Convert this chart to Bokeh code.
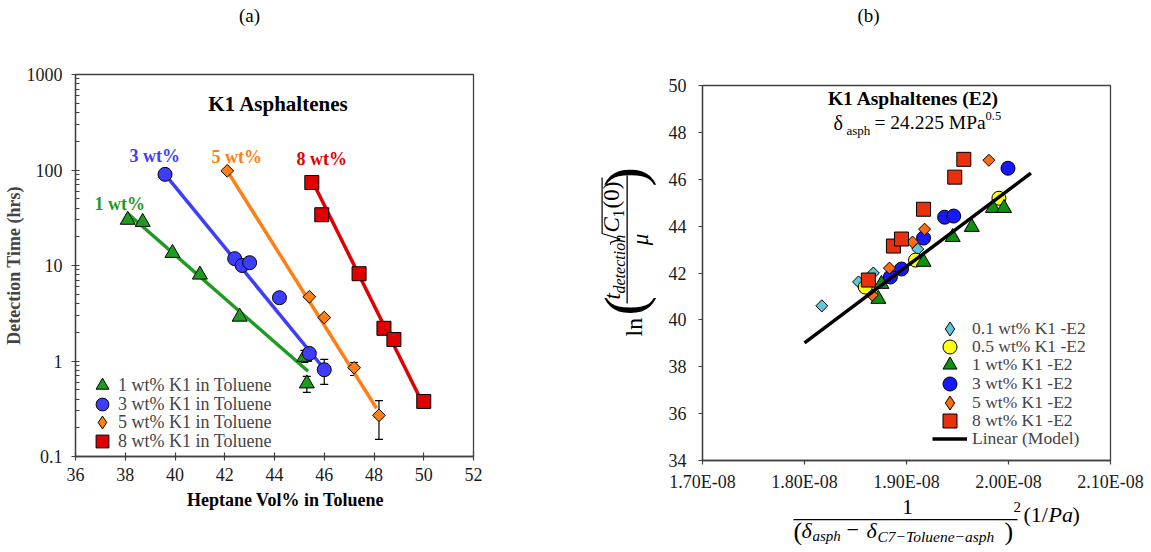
import math
from bokeh.plotting import figure
from bokeh.layouts import row, column
from bokeh.models import (Range1d, FixedTicker, CustomJSTickFormatter, Label, Legend, LegendItem,
                          ColumnDataSource, Whisker, TeeHead, BoxAnnotation)
from bokeh.embed import file_html
from bokeh.resources import INLINE

SERIF = "'Liberation Serif', 'Times New Roman', serif"
NAN = float("nan")

# ---------------- panel (a): detection time vs heptane content ----------------
hep_1wt = [38.1, 38.7, 39.9, 41.0, 42.6, 45.2, 45.3]
det_1wt = [30.0, 28.5, 13.5, 8.0, 2.9, 1.1, 0.58]
err_1wt_x = [45.2, 45.3]
err_1wt_lo = [0.965, 0.47]
err_1wt_hi = [1.29, 0.69]
fit_1wt_x = [38.1, 45.35]
fit_1wt_y = [35.0, 0.78]

hep_3wt = [39.6, 42.4, 42.7, 43.0, 44.2, 45.4, 46.0]
det_3wt = [90.0, 11.8, 10.0, 10.7, 4.6, 1.2, 0.81]
err_3wt_x = [46.0]
err_3wt_lo = [0.57]
err_3wt_hi = [1.04]
fit_3wt_x = [39.6, 45.95]
fit_3wt_y = [90.0, 0.855]

hep_5wt = [42.1, 45.4, 46.0, 47.2, 48.2]
det_5wt = [98.0, 4.7, 2.85, 0.85, 0.27]
err_5wt_x = [47.2, 48.2]
err_5wt_lo = [0.705, 0.151]
err_5wt_hi = [0.965, 0.385]
fit_5wt_x = [42.1, 48.1]
fit_5wt_y = [98.0, 0.32]

hep_8wt = [45.5, 45.9, 47.4, 48.4, 48.8, 50.0]
det_8wt = [74.0, 34.0, 8.2, 2.2, 1.68, 0.377]
fit_8wt_x = [45.55, 49.85]
fit_8wt_y = [74.0, 0.41]

a_xticks = [36, 38, 40, 42, 44, 46, 48, 50, 52]
a_xlabels = ["36", "38", "40", "42", "44", "46", "48", "50", "52"]
a_yticks = [0.1, 1, 10, 100, 1000]
a_ylabels = ["0.1", "1", "10", "100", "1000"]
a_legend = ["1 wt% K1 in Toluene", "3 wt% K1 in Toluene", "5 wt% K1 in Toluene", "8 wt% K1 in Toluene"]

# ---------------- panel (b): scaled detection time vs solubility term ----------------
b_01_x = [1.817e-8, 1.853e-8, 1.8675e-8, 1.911e-8]
b_01_y = [40.60, 41.62, 42.00, 43.02]
b_05_x = [1.8596e-8, 1.9089e-8, 1.9906e-8]
b_05_y = [41.40, 42.55, 45.19]
b_1_x = [1.8724e-8, 1.8754e-8, 1.9167e-8, 1.9453e-8, 1.964e-8, 1.9847e-8, 1.9956e-8]
b_1_y = [40.89, 41.53, 42.47, 43.53, 43.96, 44.77, 44.77]
b_3_x = [1.8842e-8, 1.8951e-8, 1.9167e-8, 1.9374e-8, 1.9463e-8, 1.9995e-8]
b_3_y = [41.83, 42.17, 43.49, 44.38, 44.43, 46.47]
b_5_x = [1.8665e-8, 1.8833e-8, 1.9059e-8, 1.9177e-8, 1.9808e-8]
b_5_y = [41.06, 42.21, 43.32, 43.87, 46.81]
b_8_x = [1.8626e-8, 1.8872e-8, 1.8951e-8, 1.9167e-8, 1.9473e-8, 1.9562e-8]
b_8_y = [41.70, 43.15, 43.45, 44.72, 46.09, 46.85]
model_x = [1.80e-8, 2.022e-8]
model_y = [39.02, 46.26]

b_xticks = [1.7e-8, 1.8e-8, 1.9e-8, 2.0e-8, 2.1e-8]
b_xlabels = ["1.70E-08", "1.80E-08", "1.90E-08", "2.00E-08", "2.10E-08"]
b_yticks = [34, 36, 38, 40, 42, 44, 46, 48, 50]
b_ylabels = ["34", "36", "38", "40", "42", "44", "46", "48", "50"]
b_legend = ["0.1 wt% K1 -E2", "0.5 wt% K1 -E2", "1 wt% K1 -E2", "3 wt% K1 -E2",
            "5 wt% K1 -E2", "8 wt% K1 -E2", "Linear (Model)"]

# colours
GREEN_A, BLUE_A, ORANGE_A, RED_A = "#1f9b1f", "#3d3dff", "#ff7f14", "#e00000"
CYAN_B, YELLOW_B, GREEN_B, BLUE_B, ORANGE_B, RED_B = "#5ec8da", "#ffff10", "#0f900f", "#1818ff", "#ff6a12", "#e8300c"
AXIS = "#404040"

LOOKUP = """
let best = 0, d = Infinity;
for (let i = 0; i < tick_vals.length; i++) {
  const e = Math.abs(tick - tick_vals[i]);
  if (e < d) { d = e; best = i; }
}
return tick_text[best];
"""


def tick_fmt(vals, text):
    return CustomJSTickFormatter(args=dict(tick_vals=vals, tick_text=text), code=LOOKUP)


def style_axes(p):
    p.grid.visible = False
    p.outline_line_color = AXIS
    p.outline_line_width = 1.3
    for ax in (p.xaxis[0], p.yaxis[0]):
        ax.axis_line_color = AXIS
        ax.axis_line_width = 1.3
        ax.major_tick_line_color = AXIS
        ax.major_tick_line_width = 1.2
        ax.minor_tick_line_color = None
        ax.major_label_text_font = SERIF
        ax.major_label_text_font_size = "18px"
        ax.major_label_text_color = "#1a1a1a"


def strip(w, h, bl=0, br=0, bt=0, bb=0):
    """A bare drawing area (no axes) that only carries text; borders match its neighbour plot."""
    s = figure(width=w, height=h, x_range=Range1d(0, 1), y_range=Range1d(0, 1),
               x_axis_location=None, y_axis_location=None, title_location=None,
               toolbar_location=None, output_backend="svg",
               min_border_left=bl, min_border_right=br, min_border_top=bt, min_border_bottom=bb)
    s.grid.visible = False
    s.outline_line_color = None
    return s


def note(p, left, bottom, px, py, text, size, style="normal", align="left", angle=0, color="black"):
    """Place text whose baseline starts at page pixel (px, py); left/bottom locate the frame.

    The label is anchored on the middle of its em box, which sits about 0.34 em
    above the baseline, so the anchor is moved by that amount.
    """
    lift = 0.34 * size
    if angle == 90:
        px -= lift
    else:
        py -= lift
    p.add_layout(Label(x=px - left, y=bottom - py, x_units="screen", y_units="screen",
                       text=text, text_font=SERIF, text_font_size=f"{size}px",
                       text_font_style=style, text_align=align, text_baseline="middle",
                       angle=angle, angle_units="deg", text_color=color))


def rule(p, left, bottom, x0, x1, y0, y1):
    """A thin filled bar given in page pixel coordinates."""
    p.add_layout(BoxAnnotation(left=x0 - left, right=x1 - left, top=bottom - y0, bottom=bottom - y1,
                               left_units="screen", right_units="screen",
                               top_units="screen", bottom_units="screen",
                               fill_color="black", fill_alpha=1.0, line_color=None))


def key(p, frame_left, frame_bottom, cx, cy, label, renderer, box, standoff, size):
    """One legend row: symbol centred at page pixel (cx, cy)."""
    p.add_layout(Legend(items=[LegendItem(label=label, renderers=[renderer])],
                        location=(int(round(cx - box / 2 - frame_left)), int(round(frame_bottom - cy - box / 2))),
                        glyph_width=box, glyph_height=box, label_standoff=standoff,
                        padding=0, margin=0, border_line_color=None, background_fill_alpha=0,
                        label_text_font=SERIF, label_text_font_size=size, label_height=box))


# ================= panel (a) =================
A_L, A_R, A_T, A_B = 73, 473, 74, 456
WA = 576
TOP_H = 60
A_PLOT_BOTTOM = 490

top_a = strip(WA, TOP_H, bl=A_L, br=WA - A_R)
note(top_a, A_L, TOP_H, 247, 21, "(a)", 19, align="center")

pa = figure(width=WA, height=A_PLOT_BOTTOM - TOP_H, x_range=Range1d(36, 52), y_range=Range1d(0.1, 1000),
            y_axis_type="log", output_backend="svg", toolbar_location=None, title_location=None,
            min_border_left=A_L, min_border_right=WA - A_R, min_border_top=A_T - TOP_H,
            min_border_bottom=A_PLOT_BOTTOM - A_B)
style_axes(pa)
pa.xaxis.ticker = FixedTicker(ticks=a_xticks)
pa.xaxis.formatter = tick_fmt(a_xticks, a_xlabels)
pa.yaxis.ticker = FixedTicker(ticks=a_yticks,
                              minor_ticks=[k * 10.0 ** e for e in range(-1, 3) for k in range(2, 10)])
pa.yaxis.formatter = tick_fmt(a_yticks, a_ylabels)
for ax in (pa.xaxis[0], pa.yaxis[0]):
    ax.major_tick_in = 4
    ax.major_tick_out = 4
pa.yaxis.minor_tick_line_color = AXIS
pa.yaxis.minor_tick_in = 4
pa.yaxis.minor_tick_out = 0
pa.yaxis.major_label_standoff = 9
pa.xaxis.major_label_standoff = 7
pa.yaxis.axis_label = "Detection Time (hrs)"
pa.yaxis.axis_label_text_font = SERIF
pa.yaxis.axis_label_text_font_style = "bold"
pa.yaxis.axis_label_text_font_size = "18px"
pa.yaxis.axis_label_standoff = 0

# error bars
for ex, lo, hi in ((err_1wt_x, err_1wt_lo, err_1wt_hi), (err_3wt_x, err_3wt_lo, err_3wt_hi),
                   (err_5wt_x, err_5wt_lo, err_5wt_hi)):
    src = ColumnDataSource(dict(x=ex, lo=lo, hi=hi))
    pa.add_layout(Whisker(source=src, base="x", lower="lo", upper="hi", level="underlay",
                          line_color="black", line_width=1.2,
                          upper_head=TeeHead(size=8, line_color="black", line_width=1.2),
                          lower_head=TeeHead(size=8, line_color="black", line_width=1.2)))

# fitted trends
for fx, fy, c in ((fit_1wt_x, fit_1wt_y, GREEN_A), (fit_3wt_x, fit_3wt_y, BLUE_A),
                  (fit_5wt_x, fit_5wt_y, ORANGE_A), (fit_8wt_x, fit_8wt_y, RED_A)):
    pa.line(fx, fy, line_color=c, line_width=3.5)

ra1 = pa.scatter(hep_1wt, det_1wt, marker="triangle", size=15, fill_color=GREEN_A, line_color="black", line_width=1)
ra3 = pa.scatter(hep_3wt, det_3wt, marker="circle", size=14, fill_color=BLUE_A, line_color="black", line_width=1)
pa.scatter(hep_5wt, det_5wt, marker="square", angle=math.pi / 4, size=9, fill_color=ORANGE_A, line_color="black", line_width=1)
ra8 = pa.scatter(hep_8wt, det_8wt, marker="square", size=14, fill_color=RED_A, line_color="black", line_width=1)
ra5_key = pa.scatter([NAN], [NAN], marker="diamond", size=14, fill_color=ORANGE_A, line_color="black", line_width=1)

for i, (lab, r) in enumerate(zip(a_legend, (ra1, ra3, ra5_key, ra8))):
    key(pa, A_L, A_B, 100, 385 + 18.7 * i, lab, r, 32, 0, "18px")

note(pa, A_L, A_B, 276, 111, "K1 Asphaltenes", 21, style="bold", align="center")
note(pa, A_L, A_B, 92, 210, "1 wt%", 18, style="bold", color=GREEN_A)
note(pa, A_L, A_B, 127, 162, "3 wt%", 18, style="bold", color=BLUE_A)
note(pa, A_L, A_B, 209, 163, "5 wt%", 18, style="bold", color=ORANGE_A)
note(pa, A_L, A_B, 294, 165, "8 wt%", 18, style="bold", color=RED_A)

xlab_a = strip(WA, 552 - A_PLOT_BOTTOM, bl=A_L, br=WA - A_R)
note(xlab_a, A_L, 552, 283, 506, "Heptane Vol% in Toluene", 18, style="bold", align="center")

panel_a = column(top_a, pa, xlab_a, spacing=0)

# ================= panel (b) =================
B_L, B_R, B_T, B_B = 702, 1110, 85, 461
WB = 1151 - WA
YLAB_W = 84
B_FIG_L = WA + YLAB_W            # page x where the plot figure starts
B_PLOT_BOTTOM = 494
PB_H = B_PLOT_BOTTOM - TOP_H

top_b = strip(WB, TOP_H, bl=B_L - WA, br=1151 - B_R)
xlab_b = strip(WB, 552 - B_PLOT_BOTTOM, bl=B_L - WA, br=1151 - B_R)
ylab_b = strip(YLAB_W, PB_H, bt=B_T - TOP_H, bb=B_PLOT_BOTTOM - B_B)

pb = figure(width=WB - YLAB_W, height=PB_H, x_range=Range1d(1.7e-8, 2.1e-8), y_range=Range1d(34, 50),
            output_backend="svg", toolbar_location=None, title_location=None,
            min_border_left=B_L - B_FIG_L, min_border_right=1151 - B_R, min_border_top=B_T - TOP_H,
            min_border_bottom=B_PLOT_BOTTOM - B_B)
style_axes(pb)
pb.xaxis.ticker = FixedTicker(ticks=b_xticks)
pb.xaxis.formatter = tick_fmt(b_xticks, b_xlabels)
pb.yaxis.ticker = FixedTicker(ticks=b_yticks)
pb.yaxis.formatter = tick_fmt(b_yticks, b_ylabels)
for ax in (pb.xaxis[0], pb.yaxis[0]):
    ax.major_tick_in = 0
    ax.major_tick_out = 4
pb.yaxis.major_label_standoff = 12
pb.xaxis.major_label_standoff = 7

rb01 = pb.scatter(b_01_x, b_01_y, marker="square", angle=math.pi / 4, size=8.5, fill_color=CYAN_B, line_color="black", line_width=1)
rb05 = pb.scatter(b_05_x, b_05_y, marker="circle", size=14, fill_color=YELLOW_B, line_color="black", line_width=1)
rb1 = pb.scatter(b_1_x, b_1_y, marker="triangle", size=15, fill_color=GREEN_B, line_color="black", line_width=1)
rb3 = pb.scatter(b_3_x, b_3_y, marker="circle", size=14, fill_color=BLUE_B, line_color="black", line_width=1)
rb5 = pb.scatter(b_5_x, b_5_y, marker="square", angle=math.pi / 4, size=8.5, fill_color=ORANGE_B, line_color="black", line_width=1)
rb8 = pb.scatter(b_8_x, b_8_y, marker="square", size=14, fill_color=RED_B, line_color="black", line_width=1)
rmodel = pb.line(model_x, model_y, line_color="black", line_width=3.5)
rb01_key = pb.scatter([NAN], [NAN], marker="diamond", size=14, fill_color=CYAN_B, line_color="black", line_width=1)
rb5_key = pb.scatter([NAN], [NAN], marker="diamond", size=14, fill_color=ORANGE_B, line_color="black", line_width=1)

for i, (lab, r) in enumerate(zip(b_legend, (rb01_key, rb05, rb1, rb3, rb5_key, rb8, rmodel))):
    key(pb, B_L, B_B, 950, 329 + 18.5 * i, lab, r, 35, 5, "17.5px")

note(pb, B_L, B_B, 913, 106, "K1 Asphaltenes (E2)", 19.5, style="bold", align="center")
note(pb, B_L, B_B, 833, 130, "\u03b4", 20)
note(pb, B_L, B_B, 846, 135, "asph", 13)
note(pb, B_L, B_B, 874, 130, "= 24.225 MPa", 19.5)
note(pb, B_L, B_B, 985, 121, "0.5", 12.5)

note(top_b, B_L, TOP_H, 868, 21, "(b)", 19, align="center")

# vertical axis title: ln( t_detection sqrt(C1(0)) / mu ), written bottom-to-top
YL, YB = WA, B_B
note(ylab_b, YL, YB, 642, 337, "ln", 24, angle=90)
note(ylab_b, YL, YB, 644, 316, "(", 58, angle=90)
note(ylab_b, YL, YB, 620, 300, "t", 23, style="italic", angle=90)
note(ylab_b, YL, YB, 624, 294, "detection", 16, style="italic", angle=90)
note(ylab_b, YL, YB, 620, 246, "\u221a", 23, angle=90)
note(ylab_b, YL, YB, 619, 233, "C", 23, style="italic", angle=90)
note(ylab_b, YL, YB, 623, 218, "1", 16, angle=90)
note(ylab_b, YL, YB, 619, 209, "(0)", 23, angle=90)
note(ylab_b, YL, YB, 648, 240, "\u03bc", 23, style="italic", align="center", angle=90)
note(ylab_b, YL, YB, 644, 187, ")", 58, angle=90)
rule(ylab_b, YL, YB, 626, 627.3, 176, 304)
rule(ylab_b, YL, YB, 601, 602.2, 178, 234)

# horizontal axis title: 1 / (delta_asph - delta_C7-Toluene-asph)^2  (1/Pa)
XL, XB = B_L, 552
note(xlab_b, XL, XB, 907, 514, "1", 22, align="center")
rule(xlab_b, XL, XB, 793, 1017, 518.5, 519.8)
note(xlab_b, XL, XB, 793, 540, "(", 26)
note(xlab_b, XL, XB, 801, 537, "\u03b4", 22, style="italic")
note(xlab_b, XL, XB, 812, 541, "asph", 15, style="italic")
note(xlab_b, XL, XB, 846, 537, "\u2212", 22)
note(xlab_b, XL, XB, 866, 537, "\u03b4", 22, style="italic")
note(xlab_b, XL, XB, 877, 541, "C7\u2212Toluene\u2212asph", 15.5, style="italic")
note(xlab_b, XL, XB, 1004, 540, ")", 26)
note(xlab_b, XL, XB, 1013, 512, "2", 15)
note(xlab_b, XL, XB, 1023, 521, "(1/", 22)
note(xlab_b, XL, XB, 1048, 521, "Pa", 22, style="italic")
note(xlab_b, XL, XB, 1072, 521, ")", 22)

panel_b = column(top_b, row(ylab_b, pb, spacing=0), xlab_b, spacing=0)

layout = row(panel_a, panel_b, spacing=0)
open("out.html", "w").write(file_html(layout, INLINE))
